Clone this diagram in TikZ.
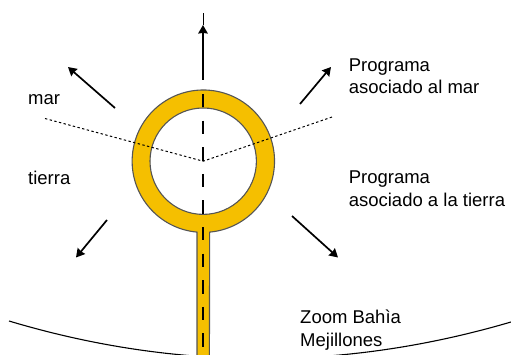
\documentclass[tikz,border=0pt]{standalone}
\usepackage{fontspec}
\setmainfont{Liberation Sans}
\definecolor{roadyellow}{HTML}{F5BF00}
\definecolor{roadedge}{HTML}{555555}
\usetikzlibrary{positioning,arrows.meta}

\begin{document}
\begin{tikzpicture}[
  x=1pt, y=1pt,
  lbl/.style={font=\fontsize{18.5}{22.5}\selectfont, align=left, inner sep=0pt, anchor=base west},
  road/.style={draw=roadedge, line width=1.1pt, fill=roadyellow, even odd rule},
  axisline/.style={line width=1.2pt, dash pattern=on 13.4pt off 13.2pt},
  sector/.style={line width=1pt, dash pattern=on 2.4pt off 2.4pt},
  arr/.style={-{Stealth[length=8.5pt, width=9.5pt, inset=0.6pt]}, line width=1.7pt},
  coast/.style={line width=1.1pt},
]
  \useasboundingbox (0,0) rectangle (511,354);
  % Coast
  \coordinate (coastl) at (9,33);
  \coordinate (coastr) at (511,32);
  \draw[coast] (coastl) .. controls (176,-17) and (344,-17) .. (coastr);
  % Roundabout and road
  \coordinate (ctr) at (203.2,192.8);
  \coordinate (axtop) at (203,260);
  \coordinate (axbot) at (203,-2);
  \draw[road] (197,-3) -- (197,121.9) arc[start angle=264.9, end angle=-84.9, radius=71.2]
    -- (209.4,-3) -- cycle (ctr) circle[radius=53.2];
  \draw[axisline] (axtop) -- (axbot);
  % Sector limits
  \coordinate (seal) at (45,235.5);
  \coordinate (sear) at (333.5,237.5);
  \draw[sector] (seal) -- (ctr) -- (sear);
  % Arrows
  \coordinate (ups) at (203,274);
  \coordinate (upm) at (203,329);
  \coordinate (upe) at (203,341);
  \coordinate (nws) at (115,246);
  \coordinate (nwe) at (68,287);
  \coordinate (nes) at (300,250);
  \coordinate (nee) at (331,287);
  \coordinate (sws) at (107,134);
  \coordinate (swe) at (76,96.5);
  \coordinate (ses) at (292,138);
  \coordinate (see) at (338,96.5);
  \draw[arr] (ups) -- (upm);
  \draw[line width=1pt] (upm) -- (upe);
  \draw[arr] (nws) -- (nwe);
  \draw[arr] (nes) -- (nee);
  \draw[arr] (sws) -- (swe);
  \draw[arr] (ses) -- (see);
  % Labels
  \node[lbl] (mar) at (28,249) {mar};
  \node[lbl] (tie) at (28,170) {tierra};
  \node[lbl] (pmar) at (348.6,260.5) {Programa\\asociado al mar};
  \node[lbl] (ptie) at (348.6,148) {Programa\\asociado a la tierra};
  \node[lbl] (zoom) at (300,8) {Zoom Bahìa\\Mejillones};
\end{tikzpicture}
\end{document}
